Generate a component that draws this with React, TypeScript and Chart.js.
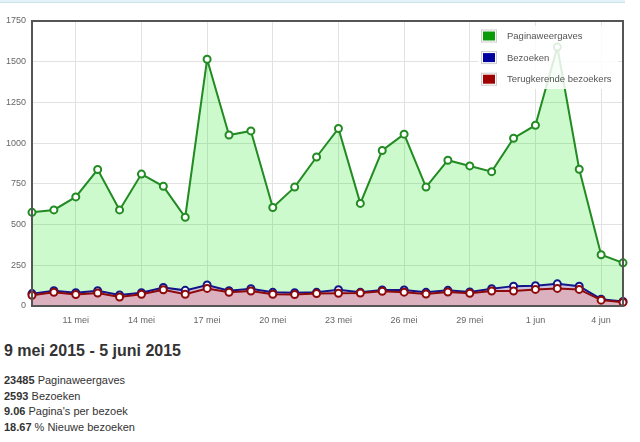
import React, { useEffect, useRef } from 'react';
import { Chart, registerables } from 'chart.js';

Chart.register(...registerables);

const FONT = '"Liberation Sans", Arial, sans-serif';

const dayLabels = [
  '9 mei', '10 mei', '11 mei', '12 mei', '13 mei', '14 mei', '15 mei', '16 mei',
  '17 mei', '18 mei', '19 mei', '20 mei', '21 mei', '22 mei', '23 mei', '24 mei',
  '25 mei', '26 mei', '27 mei', '28 mei', '29 mei', '30 mei', '31 mei',
  '1 jun', '2 jun', '3 jun', '4 jun', '5 jun'
];

const shownTicks = ['11 mei', '14 mei', '17 mei', '20 mei', '23 mei', '26 mei', '29 mei', '1 jun', '4 jun'];

const pageviews = [575, 590, 670, 838, 590, 810, 735, 545, 1515, 1050, 1075, 605, 730, 915, 1090, 630, 955, 1055, 730, 895, 860, 825, 1030, 1110, 1590, 840, 315, 265];
const visits = [76, 94, 82, 94, 68, 82, 114, 96, 129, 94, 106, 84, 82, 84, 100, 84, 98, 98, 84, 96, 86, 106, 122, 124, 136, 122, 42, 28];
const returning = [66, 84, 70, 80, 55, 72, 100, 72, 108, 84, 92, 72, 70, 76, 78, 80, 90, 85, 74, 86, 78, 92, 92, 102, 108, 102, 36, 23];

const seriesNames = ['Paginaweergaves', 'Bezoeken', 'Terugkerende bezoekers'];
const swatchColors = ['#0a9a0a', '#0000a0', '#a00000'];

const stats = [
  { value: '23485', text: ' Paginaweergaves' },
  { value: '2593', text: ' Bezoeken' },
  { value: '9.06', text: " Pagina's per bezoek" },
  { value: '18.67', text: ' % Nieuwe bezoeken' }
];

// frame + flot-style legend drawn over the plot
const framePlugin = {
  id: 'frameLegend',
  afterDatasetsDraw(chart: any) {
    const { ctx, chartArea } = chart;
    ctx.save();
    ctx.strokeStyle = '#555';
    ctx.lineWidth = 2;
    ctx.strokeRect(chartArea.left, chartArea.top, chartArea.right - chartArea.left, chartArea.bottom - chartArea.top);

    const bx = chartArea.right - 145;
    const by = chartArea.top + 5;
    ctx.fillStyle = 'rgba(255,255,255,0.85)';
    ctx.fillRect(bx, by, 140, 63);

    ctx.font = '9.5px ' + FONT;
    ctx.textBaseline = 'middle';
    seriesNames.forEach((name, i) => {
      const yc = by + 10 + i * 21.6;
      ctx.strokeStyle = '#ccc';
      ctx.lineWidth = 1;
      ctx.strokeRect(bx + 3.5, yc - 6, 15, 12);
      ctx.fillStyle = swatchColors[i];
      ctx.fillRect(bx + 5, yc - 4.5, 12, 9);
      ctx.fillStyle = '#545454';
      ctx.fillText(name, bx + 29, yc + 0.5);
    });
    ctx.restore();
  }
};

const VisitsChart: React.FC = () => {
  const canvasRef = useRef<HTMLCanvasElement>(null);
  const chartRef = useRef<Chart | null>(null);

  useEffect(() => {
    if (!canvasRef.current) return;
    if (chartRef.current) chartRef.current.destroy();

    const point = (color: string) => ({
      borderColor: color,
      borderWidth: 2,
      pointRadius: 3.5,
      pointHoverRadius: 3.5,
      pointBorderWidth: 2,
      pointBackgroundColor: '#fff',
      pointBorderColor: color,
      tension: 0,
      clip: false as const
    });

    chartRef.current = new Chart(canvasRef.current, {
      type: 'line',
      data: {
        labels: dayLabels,
        datasets: [
          {
            label: seriesNames[0],
            data: pageviews,
            fill: 'origin',
            backgroundColor: 'rgba(0,230,0,0.2)',
            order: 3,
            ...point('#228b22')
          },
          {
            label: seriesNames[1],
            data: visits,
            fill: 'origin',
            backgroundColor: '#cdc2e0',
            order: 2,
            ...point('#15158a')
          },
          {
            label: seriesNames[2],
            data: returning,
            fill: 'origin',
            backgroundColor: '#dcb1bf',
            order: 1,
            ...point('#8e0a0a')
          }
        ]
      },
      options: {
        animation: false,
        responsive: false,
        events: [],
        layout: { padding: { left: 0, right: 17, top: 21, bottom: 0 } },
        plugins: {
          legend: { display: false },
          tooltip: { enabled: false }
        },
        scales: {
          x: {
            type: 'category',
            offset: false,
            afterFit: (s: any) => { s.height = 24; },
            border: { display: false },
            grid: {
              drawTicks: false,
              color: (c: any) => (shownTicks.includes(dayLabels[c.index]) ? '#e2e2e2' : 'rgba(0,0,0,0)')
            },
            ticks: {
              autoSkip: false,
              maxRotation: 0,
              padding: 9,
              color: '#666',
              font: { size: 9, family: FONT },
              callback: (_v: any, i: number) => (shownTicks.includes(dayLabels[i]) ? dayLabels[i] : '')
            }
          },
          y: {
            min: 0,
            max: 1750,
            afterFit: (s: any) => { s.width = 32; },
            border: { display: false },
            grid: { drawTicks: false, color: '#e2e2e2' },
            ticks: {
              stepSize: 250,
              padding: 6,
              color: '#666',
              font: { size: 9, family: FONT },
              callback: (v: any) => String(v)
            }
          }
        }
      },
      plugins: [framePlugin]
    });

    return () => {
      if (chartRef.current) {
        chartRef.current.destroy();
        chartRef.current = null;
      }
    };
  }, []);

  return <canvas ref={canvasRef} width={640} height={330} style={{ display: 'block' }}></canvas>;
};

export default function App() {
  return (
    <div style={{ position: 'absolute', left: 0, top: 0, width: 640, height: 442, background: '#fff', fontFamily: FONT, color: '#333' }}>
      <div style={{ position: 'absolute', left: 0, top: 0, width: 625, height: 2, background: '#e2f2f7', borderBottom: '1px solid #cde4ec' }} />
      <div style={{ position: 'absolute', left: 0, top: 0 }}>
        <VisitsChart />
      </div>
      <div style={{ position: 'absolute', left: 4, top: 341, fontSize: 16, lineHeight: '20px', fontWeight: 'bold', whiteSpace: 'nowrap' }}>
        9 mei 2015 - 5 juni 2015
      </div>
      <div style={{ position: 'absolute', left: 4, top: 373, fontSize: 11, lineHeight: '15.7px', whiteSpace: 'nowrap' }}>
        {stats.map((s) => (
          <div key={s.value}>
            <b>{s.value}</b>{s.text}
          </div>
        ))}
      </div>
    </div>
  );
}
